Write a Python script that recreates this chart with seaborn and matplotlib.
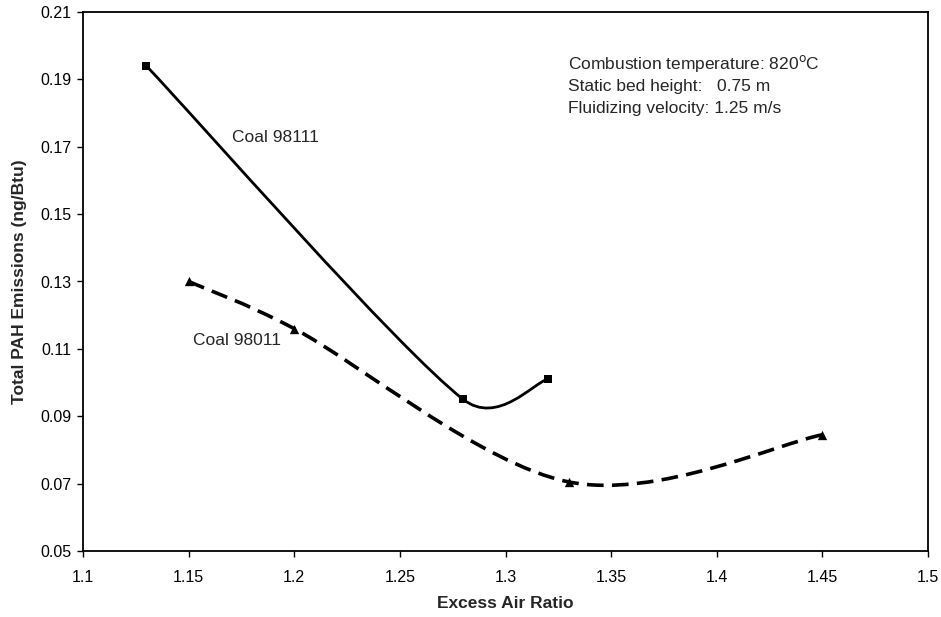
import numpy as np
import pandas as pd
import matplotlib
matplotlib.use("Agg")
import matplotlib.pyplot as plt
from matplotlib.path import Path
from matplotlib.patches import PathPatch
import seaborn as sns

# Measured emissions for the two coals
air_98111 = [1.13, 1.28, 1.32]
pah_98111 = [0.194, 0.095, 0.101]
air_98011 = [1.15, 1.20, 1.33, 1.45]
pah_98011 = [0.130, 0.116, 0.0705, 0.0845]

x_ticks = [1.1, 1.15, 1.2, 1.25, 1.3, 1.35, 1.4, 1.45, 1.5]
y_ticks = [0.05, 0.07, 0.09, 0.11, 0.13, 0.15, 0.17, 0.19, 0.21]

sns.set_style("ticks")
plt.rcParams["font.family"] = ["Liberation Sans", "DejaVu Sans"]
plt.rcParams["lines.scale_dashes"] = False

fig = plt.figure(figsize=(9.41, 6.17), dpi=100)
ax = fig.add_axes([83 / 941, 1 - 551 / 617, 845 / 941, 539 / 617])
ax.set_xlim(1.1, 1.5)
ax.set_ylim(0.05, 0.21)


def smooth_path(xs, ys):
    """Bezier path through the points, tangents built in screen space."""
    pts = ax.transData.transform(np.column_stack([xs, ys]))
    n = len(pts)
    verts = [pts[0]]
    codes = [Path.MOVETO]
    for i in range(n - 1):
        p0 = pts[max(i - 1, 0)]
        p1 = pts[i]
        p2 = pts[i + 1]
        p3 = pts[min(i + 2, n - 1)]
        d12 = np.linalg.norm(p2 - p1)
        t1 = p2 - p0
        t2 = p3 - p1
        l1 = np.linalg.norm(t1)
        l2 = np.linalg.norm(t2)
        a1 = min(l1 / 6, d12 / 2)
        a2 = min(l2 / 6, d12 / 2)
        c1 = p1 + (t1 / l1 * a1 if l1 > 0 else 0)
        c2 = p2 - (t2 / l2 * a2 if l2 > 0 else 0)
        verts += [c1, c2, p2]
        codes += [Path.CURVE4] * 3
    verts = ax.transData.inverted().transform(np.array(verts))
    return Path(verts, codes)


ax.add_patch(PathPatch(smooth_path(air_98111, pah_98111), fill=False,
                       edgecolor="black", linewidth=2.0, capstyle="butt"))
ax.add_patch(PathPatch(smooth_path(air_98011, pah_98011), fill=False,
                       edgecolor="black", linewidth=2.6,
                       linestyle=(0, (12, 6)), capstyle="butt"))

df1 = pd.DataFrame({"x": air_98111, "y": pah_98111})
df2 = pd.DataFrame({"x": air_98011, "y": pah_98011})
sns.scatterplot(data=df1, x="x", y="y", marker="s", s=28, color="black",
                edgecolor="black", linewidth=0, ax=ax, zorder=5)
sns.scatterplot(data=df2, x="x", y="y", marker="^", s=45, color="black",
                edgecolor="black", linewidth=0, ax=ax, zorder=5)

ax.set_xlim(1.1, 1.5)
ax.set_ylim(0.05, 0.21)
ax.set_xticks(x_ticks)
ax.set_xticklabels([f"{v:g}" for v in x_ticks])
ax.set_yticks(y_ticks)
ax.set_yticklabels([f"{v:.2f}" for v in y_ticks])
ax.tick_params(axis="both", direction="out", length=4.5, width=1,
               labelsize=11.5, colors="black")
ax.tick_params(axis="x", pad=9)
ax.tick_params(axis="y", pad=4)

for s in ax.spines.values():
    s.set_visible(True)
    s.set_linewidth(1.3)
    s.set_color("black")

ax.set_xlabel("Excess Air Ratio", fontsize=12.5, fontweight="bold", labelpad=8)
ax.set_ylabel("Total PAH Emissions (ng/Btu)", fontsize=12.5, fontweight="bold")
ax.yaxis.set_label_coords(-0.066, 0.5)

ax.text(1.1705, 0.1726, "Coal 98111", fontsize=12.5, va="center", ha="left")
ax.text(1.152, 0.1126, "Coal 98011", fontsize=12.5, va="center", ha="left")

ax.text(1.3296, 0.1946, "Combustion temperature: 820$^{\\rm o}$C",
        fontsize=12.5, va="center", ha="left")
ax.text(1.3296, 0.1880, "Static bed height:   0.75 m", fontsize=12.5,
        va="center", ha="left")
ax.text(1.3296, 0.1815, "Fluidizing velocity: 1.25 m/s", fontsize=12.5,
        va="center", ha="left")

fig.savefig("out.png", dpi=100)
